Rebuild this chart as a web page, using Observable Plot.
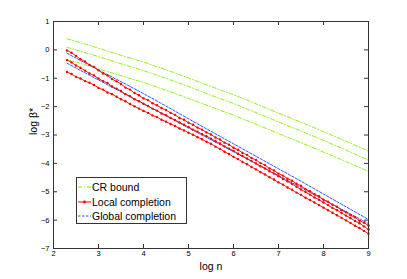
<!DOCTYPE html>
<html><head><meta charset="utf-8">
<script src="https://cdn.jsdelivr.net/npm/d3@7"></script>
<script src="https://cdn.jsdelivr.net/npm/@observablehq/plot@0.6"></script>
<style>
body{margin:0;background:#fff;}
#wrap{position:relative;width:407px;height:279px;font-family:"Liberation Sans",Arial,sans-serif;}
#legend{position:absolute;left:76px;top:177px;width:111px;height:47px;border:1px solid #333;background:#fff;box-sizing:border-box;padding-top:2px;}
.row{display:flex;align-items:center;height:14.5px;font-size:10.5px;color:#000;white-space:nowrap;}
.row svg{margin-left:1px;margin-right:1px;}
</style>
</head><body>
<div id="wrap"></div>
<script>
// x positions (log n)
const logNFine = [2.3,2.4,2.5,2.6,2.7,2.8,2.9,3.0,3.1,3.2,3.3,3.4,3.5,3.6,3.7,3.8,3.9,4.0,4.1,4.2,4.3,4.4,4.5,4.6,4.7,4.8,4.9,5.0,5.1,5.2,5.3,5.4,5.5,5.6,5.7,5.8,5.9,6.0,6.1,6.2,6.3,6.4,6.5,6.6,6.7,6.8,6.9,7.0,7.1,7.2,7.3,7.4,7.5,7.6,7.7,7.8,7.9,8.0,8.1,8.2,8.3,8.4,8.5,8.6,8.7,8.8,8.9,9.0];
const logNCoarse = [2.3,2.5,3.0,3.5,4.0,4.5,5.0,5.5,6.0,6.5,7.0,7.5,8.0,8.5,9.0];

// CR bound (green, three curves)
const cr1 = [0.39,0.30,0.06,-0.19,-0.43,-0.70,-0.99,-1.29,-1.58,-1.90,-2.23,-2.55,-2.88,-3.22,-3.57];
const cr2 = [0.09,0.00,-0.24,-0.49,-0.73,-1.00,-1.29,-1.60,-1.89,-2.21,-2.54,-2.86,-3.19,-3.53,-3.89];
const cr3 = [-0.35,-0.43,-0.67,-0.91,-1.15,-1.42,-1.71,-2.01,-2.30,-2.62,-2.95,-3.27,-3.60,-3.94,-4.28];

// Local completion (red, three curves)
const loc1 = [-0.02,-0.10,-0.21,-0.33,-0.41,-0.53,-0.60,-0.72,-0.83,-0.90,-1.03,-1.11,-1.20,-1.33,-1.40,-1.52,-1.60,-1.71,-1.77,-1.88,-1.95,-2.05,-2.12,-2.22,-2.29,-2.40,-2.46,-2.57,-2.64,-2.74,-2.81,-2.91,-2.98,-3.09,-3.16,-3.27,-3.34,-3.45,-3.52,-3.63,-3.70,-3.81,-3.88,-3.99,-4.06,-4.18,-4.25,-4.36,-4.43,-4.54,-4.61,-4.72,-4.79,-4.91,-4.98,-5.09,-5.16,-5.28,-5.35,-5.46,-5.53,-5.65,-5.72,-5.83,-5.90,-6.02,-6.09,-6.19];
const loc2 = [-0.36,-0.44,-0.55,-0.63,-0.73,-0.83,-0.90,-1.01,-1.10,-1.17,-1.29,-1.37,-1.45,-1.56,-1.63,-1.74,-1.81,-1.90,-1.98,-2.07,-2.14,-2.24,-2.30,-2.40,-2.47,-2.56,-2.64,-2.72,-2.81,-2.88,-2.97,-3.04,-3.13,-3.22,-3.30,-3.40,-3.48,-3.56,-3.66,-3.74,-3.83,-3.92,-4.00,-4.10,-4.18,-4.28,-4.36,-4.45,-4.55,-4.63,-4.73,-4.82,-4.92,-5.01,-5.10,-5.20,-5.28,-5.38,-5.47,-5.57,-5.65,-5.75,-5.84,-5.93,-6.03,-6.11,-6.22,-6.33];
const loc3 = [-0.78,-0.85,-0.95,-1.01,-1.10,-1.16,-1.24,-1.34,-1.40,-1.50,-1.56,-1.65,-1.74,-1.81,-1.91,-1.99,-2.07,-2.15,-2.22,-2.31,-2.37,-2.46,-2.53,-2.61,-2.68,-2.77,-2.84,-2.92,-2.99,-3.08,-3.15,-3.24,-3.31,-3.41,-3.49,-3.59,-3.67,-3.77,-3.85,-3.95,-4.03,-4.13,-4.21,-4.31,-4.39,-4.49,-4.57,-4.67,-4.75,-4.85,-4.93,-5.03,-5.11,-5.21,-5.29,-5.38,-5.47,-5.56,-5.65,-5.74,-5.83,-5.92,-6.01,-6.10,-6.20,-6.28,-6.38,-6.48];

// Global completion (blue, dashed)
const glob1 = [-0.12,-0.29,-0.71,-1.12,-1.54,-1.98,-2.43,-2.87,-3.31,-3.75,-4.19,-4.63,-5.08,-5.53,-5.98];
const glob2 = [-0.47,-0.64,-1.06,-1.48,-1.90,-2.32,-2.75,-3.17,-3.59,-4.01,-4.43,-4.85,-5.28,-5.70,-6.12];

const xTicks = [2,3,4,5,6,7,8,9];
const yTicks = [-7,-6,-5,-4,-3,-2,-1,0,1];
const xLabel = "log n";
const yLabel = "log β*";
const seriesNames = ["CR bound","Local completion","Global completion"];
const seriesColors = ["#80f000","#ff0000","#3355ff"];

const rows = (xs, ys, key) => xs.map((x, i) => ({x, y: ys[i], key}));
const green = [...rows(logNCoarse, cr1, "g1"), ...rows(logNCoarse, cr2, "g2"), ...rows(logNCoarse, cr3, "g3")];
const red = [...rows(logNFine, loc1, "r1"), ...rows(logNFine, loc2, "r2"), ...rows(logNFine, loc3, "r3")];
const blue = [...rows(logNCoarse, glob1, "b1"), ...rows(logNCoarse, glob2, "b2")];

const W = 407, H = 279, mL = 53, mR = 39, mT = 21, mB = 31;
const fw = W - mL - mR, fh = H - mT - mB, tk = 4;
const axisColor = "#333";

const chart = Plot.plot({
  width: W, height: H,
  marginLeft: mL, marginRight: mR, marginTop: mT, marginBottom: mB,
  style: {fontFamily: "'Liberation Sans', Arial, sans-serif", fontSize: "8px", background: "#fff", overflow: "visible"},
  x: {domain: [2, 9]},
  y: {domain: [-7, 1]},
  marks: [
    Plot.line(green, {x: "x", y: "y", z: "key", stroke: seriesColors[0], strokeWidth: 0.9, strokeDasharray: "4,2,1,2"}),
    Plot.line(blue, {x: "x", y: "y", z: "key", stroke: seriesColors[2], strokeWidth: 1, strokeDasharray: "2.5,1.5"}),
    Plot.line(red, {x: "x", y: "y", z: "key", stroke: seriesColors[1], strokeWidth: 0.9}),
    Plot.dot(red, {x: "x", y: "y", r: 1.2, fill: seriesColors[1], stroke: null}),
    Plot.frame({stroke: axisColor}),
    Plot.tickX(xTicks, {x: d => d, insetTop: fh - tk, stroke: axisColor}),
    Plot.tickX(xTicks, {x: d => d, insetBottom: fh - tk, stroke: axisColor}),
    Plot.tickY(yTicks, {y: d => d, insetRight: fw - tk, stroke: axisColor}),
    Plot.tickY(yTicks, {y: d => d, insetLeft: fw - tk, stroke: axisColor}),
    Plot.axisX(xTicks, {tickSize: 0, tickPadding: 2, label: null, fontSize: 7.5}),
    Plot.axisY(yTicks, {tickSize: 0, tickPadding: 4, label: null, fontSize: 7.5}),
    Plot.text([xLabel], {frameAnchor: "bottom", dy: 21, fontSize: 10.5, fill: "#000"}),
    Plot.text([yLabel], {frameAnchor: "left", dx: -20, rotate: -90, fontSize: 10.5, fill: "#000"})
  ]
});
document.getElementById("wrap").appendChild(chart);

// legend
const lg = document.createElement("div");
lg.id = "legend";
const styles = [
  {dash: "4,2,1,2", marker: false},
  {dash: null, marker: true},
  {dash: "2.5,1.5", marker: false}
];
seriesNames.forEach((name, i) => {
  const r = document.createElement("div");
  r.className = "row";
  const st = styles[i];
  r.innerHTML = `<svg width="13" height="6"><line x1="0" y1="3" x2="13" y2="3" stroke="${seriesColors[i]}" stroke-width="1" ${st.dash ? `stroke-dasharray="${st.dash}"` : ""}/>${st.marker ? `<circle cx="6.5" cy="3" r="1.4" fill="${seriesColors[i]}"/>` : ""}</svg><span>${name}</span>`;
  lg.appendChild(r);
});
document.getElementById("wrap").appendChild(lg);
</script>
</body></html>
